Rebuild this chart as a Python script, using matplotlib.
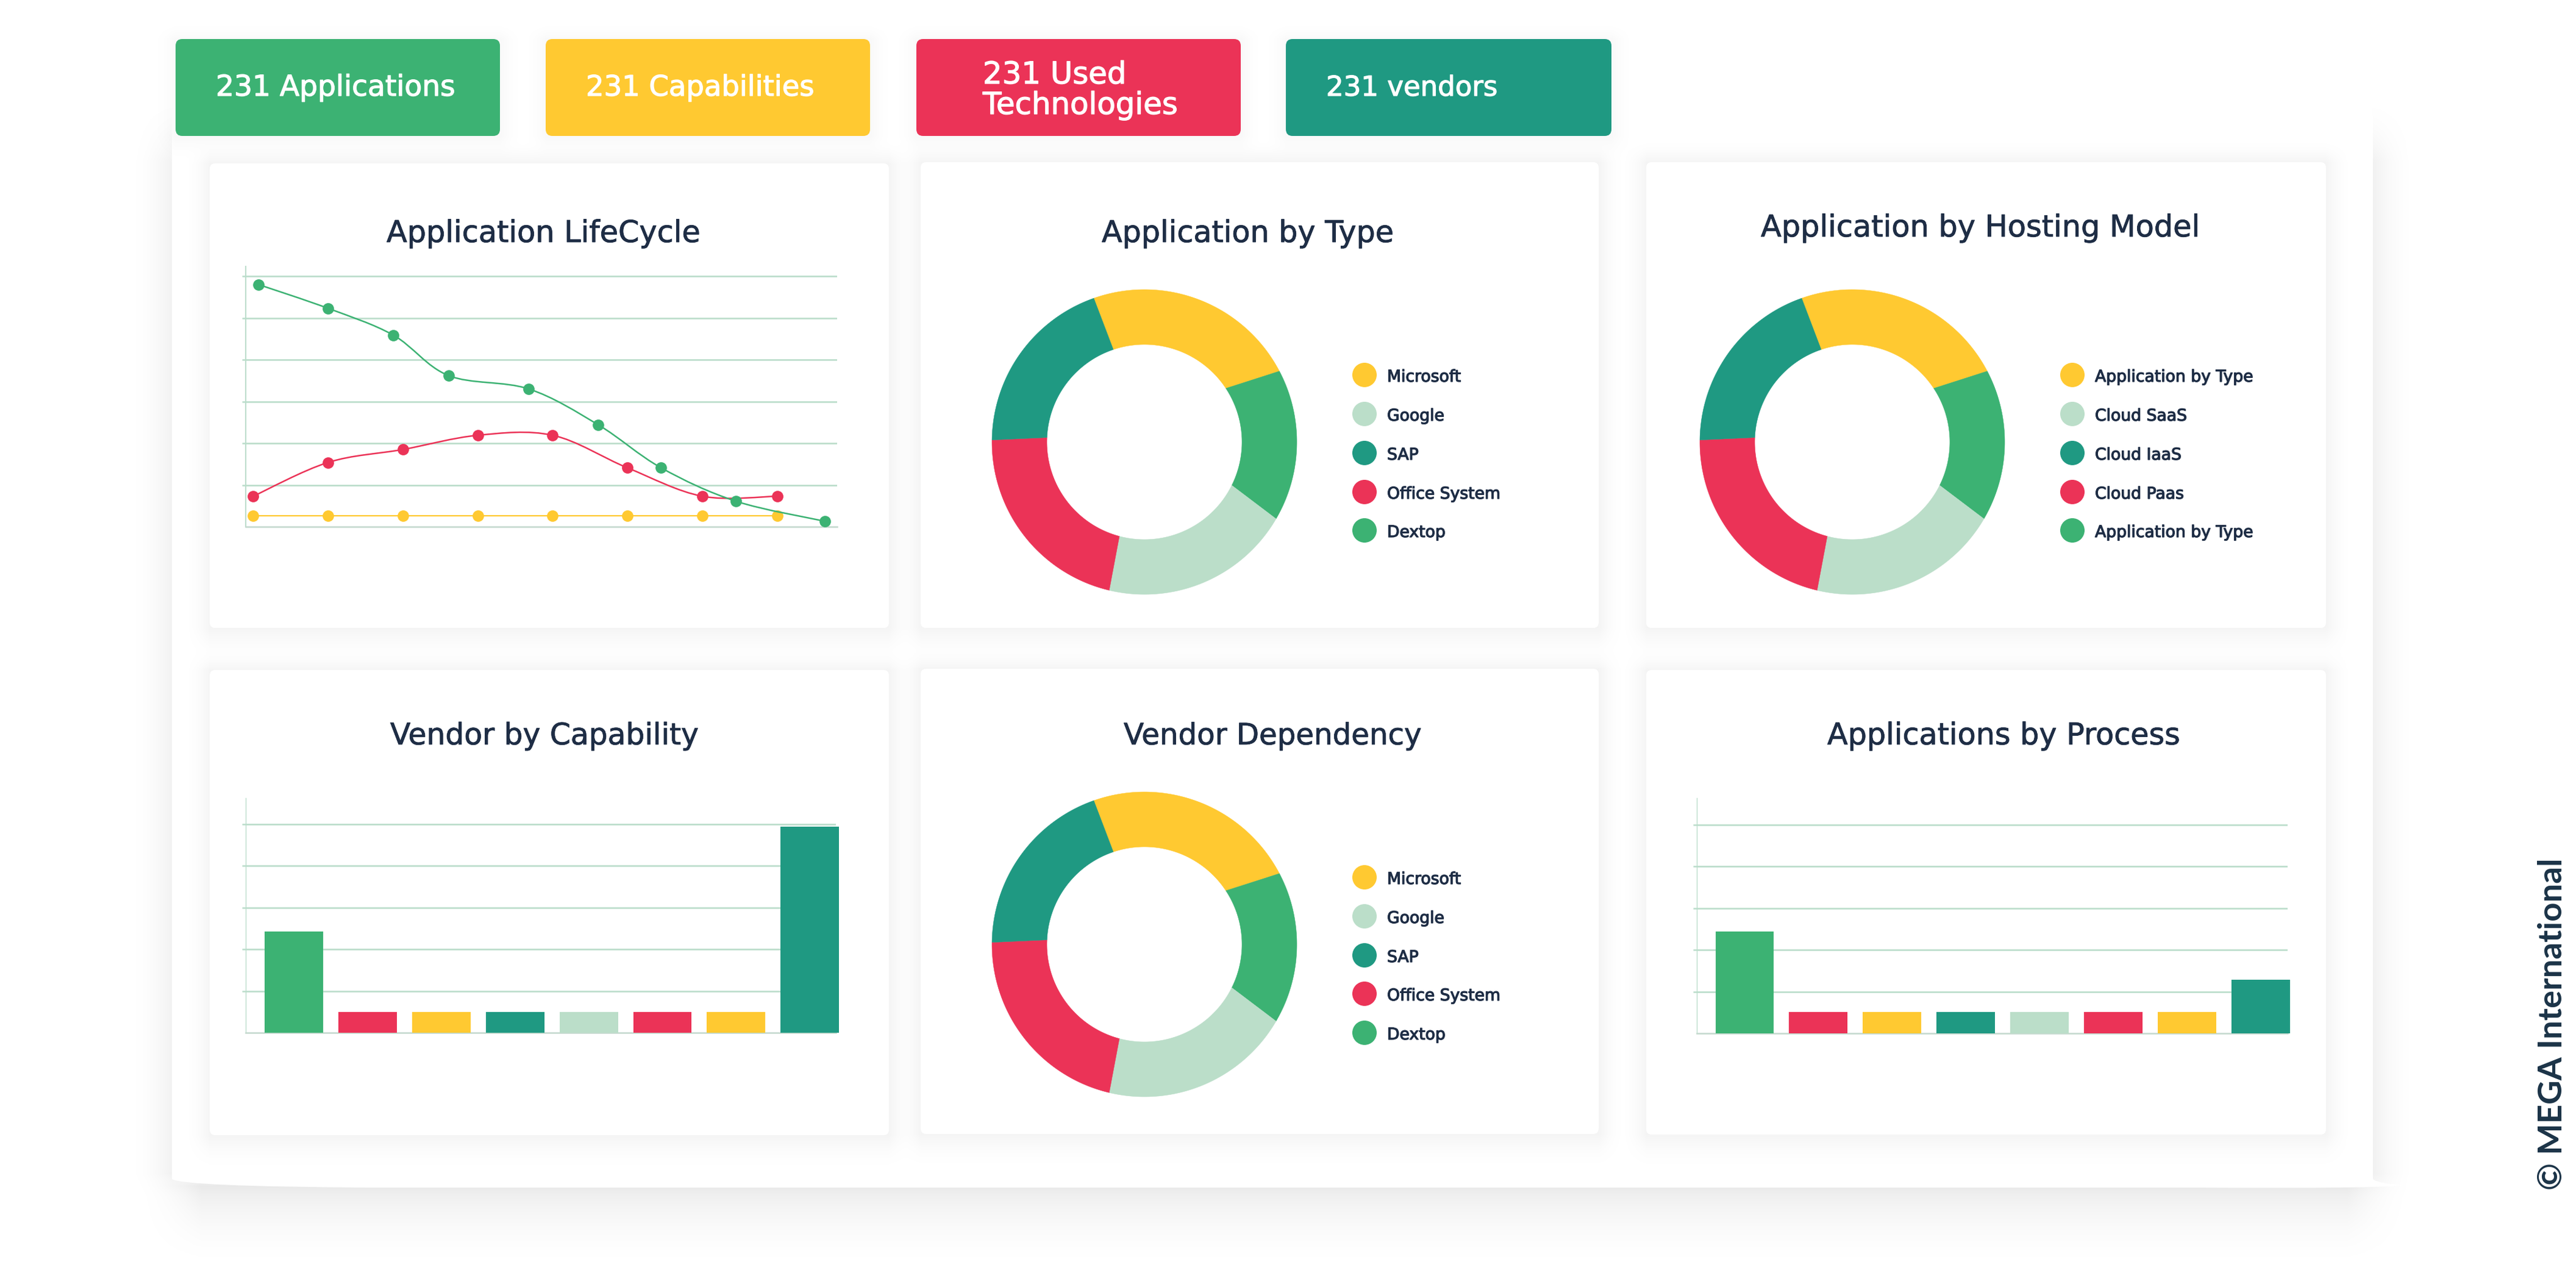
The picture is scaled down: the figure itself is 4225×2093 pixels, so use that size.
"""Application portfolio dashboard: tiles, lifecycle lines, donuts and bars."""
import matplotlib
matplotlib.use("Agg")
import matplotlib.pyplot as plt
import matplotlib.patheffects as pe
import numpy as np
from matplotlib.patches import Circle, FancyBboxPatch, PathPatch
from matplotlib.path import Path

W, H = 4225, 2093

GREEN = "#3CB273"
YELLOW = "#FFC931"
RED = "#EB3357"
TEAL = "#1F9982"
LIGHT = "#BBDEC9"
INK = "#1E2D45"
GRID = "#BBDDCB"

tile_labels = ["231 Applications", "231 Capabilities", "231 Used\nTechnologies", "231 vendors"]

lifecycle_title = "Application LifeCycle"
green_x = [0.07, 1.0, 1.87, 2.61, 3.68, 4.61, 5.45, 6.45, 7.64]
green_y = [5.80, 5.23, 4.59, 3.62, 3.30, 2.44, 1.41, 0.61, 0.13]
red_x = [0, 1, 2, 3, 4, 5, 6, 7]
red_y = [0.73, 1.54, 1.85, 2.19, 2.19, 1.41, 0.73, 0.73]
yellow_x = [0, 1, 2, 3, 4, 5, 6, 7]
yellow_y = [0.26, 0.26, 0.26, 0.26, 0.26, 0.26, 0.26, 0.26]

# donut slices in %, clockwise from the yellow one; the picture's seams are not
# quite radial so the shares read at the outer and inner rim differ a little
donut_outer = [22.7, 16.1, 20.3, 21.5, 19.4]
donut_inner = [20.9, 16.6, 21.8, 21.6, 19.1]
OUTER_START, INNER_START = -19.4, -18.6
donut_colors = [YELLOW, GREEN, LIGHT, RED, TEAL]
legend_colors = [YELLOW, LIGHT, TEAL, RED, GREEN]
type_labels = ["Microsoft", "Google", "SAP", "Office System", "Dextop"]
hosting_labels = ["Application by Type", "Cloud SaaS", "Cloud IaaS", "Cloud Paas", "Application by Type"]
dependency_labels = ["Microsoft", "Google", "SAP", "Office System", "Dextop"]

bar_colors = [GREEN, RED, YELLOW, TEAL, LIGHT, RED, YELLOW, TEAL]
capability_values = [2.42, 0.49, 0.49, 0.49, 0.49, 0.49, 0.49, 4.93]
process_values = [2.44, 0.51, 0.51, 0.51, 0.51, 0.51, 0.51, 1.28]

CARDS = [(344, 268, 1458, 1030), (1510, 266, 2622, 1030), (2700, 266, 3815, 1030),
         (344, 1099, 1458, 1862), (1510, 1097, 2622, 1860), (2700, 1099, 3815, 1861)]
TILES = [(288, 64, 820, 223), (895, 64, 1427, 223), (1503, 64, 2035, 223), (2109, 64, 2643, 223)]


def falloff(n, lo, hi, reach_lo, reach_hi):
    t = np.arange(n, dtype=float)
    s = np.ones(n)
    s[t < lo] = np.clip(1 - (lo - t[t < lo]) / reach_lo, 0, 1) ** 2
    s[t > hi] = np.clip(1 - (t[t > hi] - hi) / reach_hi, 0, 1) ** 2
    return s


def shadow(light, box, amp, sides, top, bottom):
    l, t, r, b = box
    light *= 1 - amp * np.outer(falloff(H, t, b, top, bottom), falloff(W, l, r, sides, sides))


def shadow_image(ax, light, zorder):
    rgba = np.zeros((H, W, 4), dtype=np.uint8)
    rgba[..., 3] = np.round((1 - light) * 255).astype(np.uint8)
    ax.imshow(rgba, extent=(0, W, H, 0), interpolation="nearest", aspect="auto", zorder=zorder)


def fit_text(t, width):
    ext = t.get_window_extent(fig.canvas.get_renderer())
    t.set_fontsize(t.get_fontsize() * width / max(ext.width, ext.height))


def thicken(t, amount):
    t.set_path_effects([pe.withStroke(linewidth=amount, foreground=t.get_color())])


def label(x0, x1, base, s, color=INK, weight=0.6):
    t = page.text(x0, base, s, color=color, fontsize=30, ha="left", va="baseline", zorder=6)
    fit_text(t, x1 - x0)
    thicken(t, weight)
    return t


def chart_axes(l, t, r, b, left_lw=1.0):
    ax = fig.add_axes([l / W, 1 - b / H, (r - l) / W, (b - t) / H], zorder=5)
    ax.patch.set_alpha(0)
    for side in ["top", "right"]:
        ax.spines[side].set_visible(False)
    ax.spines["left"].set_color(GRID)
    ax.spines["left"].set_linewidth(left_lw)
    ax.spines["bottom"].set_color("#C3D8CD")
    ax.spines["bottom"].set_linewidth(1.8)
    ax.tick_params(axis="y", length=4.5, width=1.8, color=GRID, labelleft=False)
    ax.tick_params(axis="x", length=0, labelbottom=False)
    ax.grid(True, axis="y", color=GRID, linewidth=1.9)
    ax.set_axisbelow(True)
    return ax


def smooth_path(xs, ys):
    # Catmull-Rom through the points, as bezier segments
    p = np.column_stack([xs, ys])
    q = np.vstack([p[0], p, p[-1]])
    verts = [p[0]]
    for i in range(1, len(q) - 2):
        verts += [q[i] + (q[i + 1] - q[i - 1]) / 6, q[i + 1] - (q[i + 2] - q[i]) / 6, q[i + 1]]
    codes = [Path.MOVETO] + [Path.CURVE4] * (len(verts) - 1)
    return Path(np.array(verts), codes)


def draw_donut(cx, cy, legend_x, legend_ys, labels):
    r = 250
    ax = fig.add_axes([(cx - r) / W, 1 - (cy + r) / H, 2 * r / W, 2 * r / H], zorder=5)
    ax.axis("off")
    outer = OUTER_START + np.concatenate([[0], np.cumsum(donut_outer)]) * 3.6
    inner = INNER_START + np.concatenate([[0], np.cumsum(donut_inner)]) * 3.6
    for i, c in enumerate(donut_colors):
        a = np.radians(np.linspace(outer[i], outer[i + 1], 90))
        b = np.radians(np.linspace(inner[i + 1], inner[i], 90))
        xs = np.concatenate([np.sin(a), 0.64 * np.sin(b)])
        ys = np.concatenate([np.cos(a), 0.64 * np.cos(b)])
        ax.fill(xs, ys, color=c, lw=0.4, clip_on=False)
    ax.set_xlim(-1, 1)
    ax.set_ylim(-1, 1)
    for y, name, c in zip(legend_ys, labels, legend_colors):
        page.add_patch(Circle((legend_x, y), 20, color=c, lw=0, zorder=6))
        t = page.text(legend_x + 37, y + 11, name, color=INK, fontsize=legend_size,
                      ha="left", va="baseline", zorder=6)
        thicken(t, 0.9)


def draw_bars(box, first, values):
    l, t, r, b = box
    step = 120.9
    ax = chart_axes(l, t, r, b)
    ax.bar(range(len(values)), values, width=0.794, color=bar_colors, zorder=3, clip_on=False)
    ax.set_xlim((l - first) / step, (r - first) / step)
    ax.set_ylim(0, (b - t) / 68.5)
    ax.set_yticks(range(1, 6))


fig = plt.figure(figsize=(W / 100, H / 100), dpi=100, facecolor="white")
page = fig.add_axes([0, 0, 1, 1], zorder=1)
page.axis("off")

panel_light = np.ones((H, W))
shadow(panel_light, (282, 265, 3892, 1925), 0.055, 72, 110, 40)
shadow(panel_light, (330, 1945, 3850, 1948), 0.075, 110, 30, 135)
shadow_image(page, panel_light, 1)

# the panel is white on white, only its shadow and curved bottom edge show
verts = [(282, 190), (282, 160), (312, 160), (3862, 160), (3892, 160), (3892, 190),
         (3892, 1934), (3900, 1942), (3950, 1944), (3900, 1950), (3600, 1948), (600, 1948),
         (300, 1946), (282, 1934), (282, 190)]
codes = [Path.MOVETO, Path.CURVE3, Path.CURVE3, Path.LINETO, Path.CURVE3, Path.CURVE3,
         Path.LINETO, Path.CURVE3, Path.CURVE3, Path.CURVE3, Path.CURVE3, Path.LINETO,
         Path.CURVE3, Path.CURVE3, Path.CLOSEPOLY]
page.add_patch(PathPatch(Path(verts, codes), facecolor="white", edgecolor="none", zorder=2))

card_light = np.ones((H, W))
for box in CARDS:
    shadow(card_light, box, 0.042, 45, 40, 60)
for box in TILES:
    shadow(card_light, box, 0.025, 40, 30, 45)
shadow_image(page, card_light, 3)

for l, t, r, b in CARDS:
    page.add_patch(FancyBboxPatch((l, t), r - l, b - t, boxstyle="round,pad=0,rounding_size=9",
                                  facecolor="white", edgecolor="none", zorder=4))
for (l, t, r, b), c in zip(TILES, [GREEN, YELLOW, RED, TEAL]):
    page.add_patch(FancyBboxPatch((l, t), r - l, b - t, boxstyle="round,pad=0,rounding_size=11",
                                  facecolor=c, edgecolor="none", zorder=4))

page.set_xlim(0, W)
page.set_ylim(H, 0)

# tiles
used, techno = tile_labels[2].split("\n")
label(354, 746, 157, tile_labels[0], "white", 0.9)
label(961, 1335, 157, tile_labels[1], "white", 0.9)
tech = label(1612, 1931, 187, techno, "white", 0.9)
used_text = label(1612, 1818, 137, used, "white", 0.9)
used_text.set_fontsize(tech.get_fontsize())
label(2175, 2456, 157, tile_labels[3], "white", 0.9)

# card titles
label(634, 1148, 397, lifecycle_title)
label(1807, 2285, 397, "Application by Type")
label(2888, 3607, 388, "Application by Hosting Model")
label(640, 1145, 1221, "Vendor by Capability")
label(1843, 2331, 1221, "Vendor Dependency")
label(2997, 3575, 1221, "Applications by Process")

# lifecycle lines
ax = chart_axes(403, 437, 1373, 864, left_lw=1.4)
ax.set_xlim(-0.10, 7.80)
ax.set_ylim(0, 427 / 68.5)
ax.set_yticks(range(1, 7))
ax.plot(yellow_x, yellow_y, color=YELLOW, lw=1.6, marker="o", ms=13.5, mew=0, clip_on=False, zorder=3)
ax.add_patch(PathPatch(smooth_path(red_x, red_y), fill=False, edgecolor=RED, lw=1.8, zorder=4))
ax.plot(red_x, red_y, ls="none", color=RED, marker="o", ms=13.5, mew=0, clip_on=False, zorder=4)
ax.add_patch(PathPatch(smooth_path(green_x, green_y), fill=False, edgecolor=GREEN, lw=1.8, zorder=5))
ax.plot(green_x, green_y, ls="none", color=GREEN, marker="o", ms=13.5, mew=0, clip_on=False, zorder=5)

# donuts
probe = label(0, 186, 0, "Office System")
legend_size = probe.get_fontsize()
probe.remove()
draw_donut(1877, 725, 2238, [615, 679, 743, 807, 870], type_labels)
draw_donut(3038, 725, 3399, [615, 679, 743, 807, 870], hosting_labels)
draw_donut(1877, 1549, 2238, [1439, 1503, 1567, 1630, 1694], dependency_labels)

# bars
draw_bars((403, 1309, 1371, 1694), 482, capability_values)
draw_bars((2783, 1309, 3752, 1695), 2861.5, process_values)

mark = page.text(4186, 1952, "© MEGA International", rotation=90, color="#1B3347", fontsize=40,
                 family="Lato", fontweight="bold", ha="center", va="bottom", zorder=6)
fit_text(mark, 544)

fig.savefig("out.png", dpi=100)
plt.close(fig)
